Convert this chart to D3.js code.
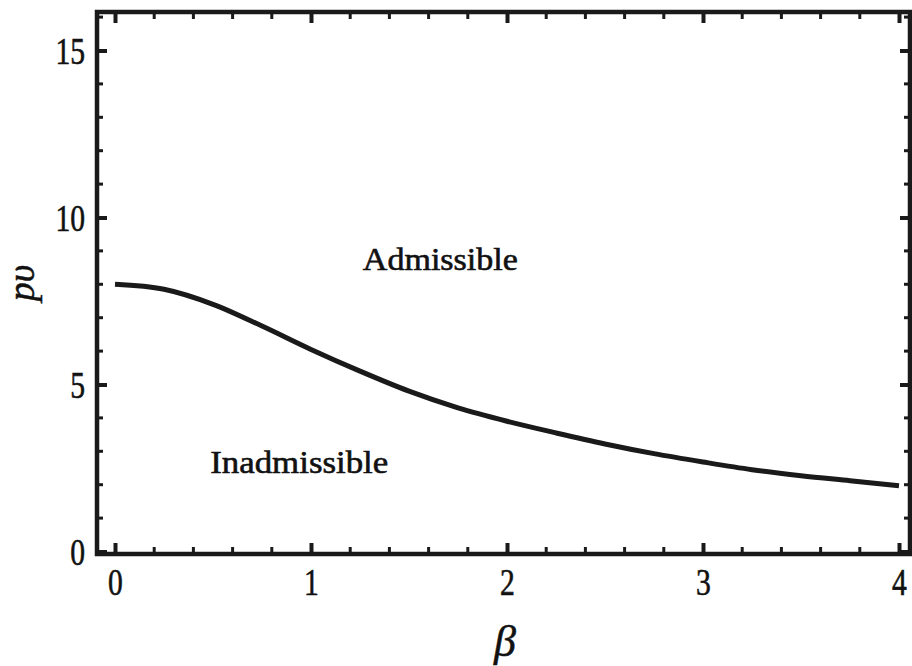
<!DOCTYPE html>
<html>
<head>
<meta charset="utf-8">
<script src="https://cdn.jsdelivr.net/npm/d3@7"></script>
<style>
  body { margin: 0; background: #fff; }
  svg { display: block; }
  .tick text { font-family: "Liberation Serif", "Times New Roman", serif; stroke: #111; stroke-width: 0.6; }
</style>
</head>
<body>
<svg id="chart" width="912" height="666"></svg>
<script>
// 곡선 데이터
const betaValues = [0, 0.25, 0.5, 0.75, 1, 1.25, 1.5, 1.75, 2, 2.25, 2.5, 2.75, 3, 3.25, 3.5, 3.75, 4];
const pValues    = [8.0, 7.85, 7.4, 6.75, 6.05, 5.4, 4.8, 4.3, 3.9, 3.55, 3.22, 2.93, 2.68, 2.45, 2.27, 2.12, 1.97];
const xTickValues = [0, 1, 2, 3, 4];
const yTickValues = [0, 5, 10, 15];
const regionLabels = ["Admissible", "Inadmissible"];

const svg = d3.select("#chart");
const frame = {left: 97, right: 910, top: 12, bottom: 554};

// 축 스케일
const xScale = d3.scaleLinear().domain([0, 4]).range([115, 899]);
const yScale = d3.scaleLinear().domain([0, 15]).range([551.5, 50.5]);

const xMinor = d3.range(0, 4.0001, 0.2).map(d => +d.toFixed(1));
const yMinor = d3.range(0, 16.01, 1);

const axisG = svg.append("g");

// 네 방향 축 (안쪽 눈금)
const bottomAxis = axisG.append("g")
    .attr("transform", `translate(0, ${frame.bottom})`)
    .call(d3.axisBottom(xScale).tickValues(xTickValues).tickSize(-11).tickPadding(24).tickFormat(d3.format("d")));
const topAxis = axisG.append("g")
    .attr("transform", `translate(0, ${frame.top})`)
    .call(d3.axisTop(xScale).tickValues(xTickValues).tickSize(-11).tickFormat(""));
const leftAxis = axisG.append("g")
    .attr("transform", `translate(${frame.left}, 0)`)
    .call(d3.axisLeft(yScale).tickValues(yTickValues).tickSize(-10).tickPadding(20).tickFormat(d3.format("d")));
const rightAxis = axisG.append("g")
    .attr("transform", `translate(${frame.right}, 0)`)
    .call(d3.axisRight(yScale).tickValues(yTickValues).tickSize(-10).tickFormat(""));

[bottomAxis, topAxis, leftAxis, rightAxis].forEach(g => {
    g.select(".domain").remove();
    g.selectAll(".tick line").attr("stroke", "#1a1a1a").attr("stroke-width", 4);
});
bottomAxis.selectAll("text").attr("font-size", 37).attr("fill", "#111").attr("y", 15).attr("dy", "0.71em")
    .attr("transform", "scale(0.8,1)");
leftAxis.selectAll("text").attr("font-size", 37).attr("fill", "#111").attr("dy", "0.36em")
    .attr("x", -12 / 0.8)
    .attr("transform", "scale(0.8,1)");

// 보조 눈금
const minorX = xMinor.filter(d => !xTickValues.includes(d));
const minorY = yMinor.filter(d => !yTickValues.includes(d));
axisG.selectAll("line.minor-bottom")
    .data(minorX)
    .join("line")
    .attr("class", "minor-bottom")
    .attr("x1", xScale).attr("x2", xScale)
    .attr("y1", frame.bottom).attr("y2", frame.bottom - 7)
    .style("stroke", "#1a1a1a").style("stroke-width", 3);
axisG.selectAll("line.minor-top")
    .data(minorX)
    .join("line")
    .attr("class", "minor-top")
    .attr("x1", xScale).attr("x2", xScale)
    .attr("y1", frame.top).attr("y2", frame.top + 7)
    .style("stroke", "#1a1a1a").style("stroke-width", 3);
axisG.selectAll("line.minor-left")
    .data(minorY)
    .join("line")
    .attr("class", "minor-left")
    .attr("y1", yScale).attr("y2", yScale)
    .attr("x1", frame.left).attr("x2", frame.left + 6)
    .style("stroke", "#1a1a1a").style("stroke-width", 3);
axisG.selectAll("line.minor-right")
    .data(minorY)
    .join("line")
    .attr("class", "minor-right")
    .attr("y1", yScale).attr("y2", yScale)
    .attr("x1", frame.right).attr("x2", frame.right - 6)
    .style("stroke", "#1a1a1a").style("stroke-width", 3);

// 프레임
svg.append("rect")
    .attr("x", frame.left)
    .attr("y", frame.top)
    .attr("width", frame.right - frame.left)
    .attr("height", frame.bottom - frame.top)
    .style("fill", "none")
    .style("stroke", "#1a1a1a")
    .style("stroke-width", 4.5);

// 경계 곡선
const points = betaValues.map((b, i) => [b, pValues[i]]);
const line = d3.line()
    .x(d => xScale(d[0]))
    .y(d => yScale(d[1]))
    .curve(d3.curveMonotoneX);
svg.append("path")
    .datum(points)
    .attr("d", line)
    .style("fill", "none")
    .style("stroke", "#1a1a1a")
    .style("stroke-width", 5)
    .style("stroke-linecap", "butt");

// 영역 라벨
const labelFont = "'Liberation Serif', 'Times New Roman', serif";
svg.append("text")
    .attr("x", xScale(1.66)).attr("y", yScale(8.43))
    .attr("text-anchor", "middle")
    .attr("font-family", labelFont).attr("font-size", 32)
    .attr("textLength", 155).attr("lengthAdjust", "spacingAndGlyphs")
    .style("fill", "#111").style("stroke", "#111").style("stroke-width", 0.6)
    .text(regionLabels[0]);
svg.append("text")
    .attr("x", xScale(0.94)).attr("y", yScale(2.35))
    .attr("text-anchor", "middle")
    .attr("font-family", labelFont).attr("font-size", 32)
    .attr("textLength", 178).attr("lengthAdjust", "spacingAndGlyphs")
    .style("fill", "#111").style("stroke", "#111").style("stroke-width", 0.6)
    .text(regionLabels[1]);

// 축 제목
svg.append("text")
    .attr("transform", "translate(34, 283) rotate(-90)")
    .attr("text-anchor", "middle")
    .attr("font-family", labelFont).attr("font-size", 38).attr("font-style", "italic")
    .style("fill", "#111").style("stroke", "#111").style("stroke-width", 0.5)
    .text("pυ");
svg.append("text")
    .attr("x", 505).attr("y", 656)
    .attr("text-anchor", "middle")
    .attr("font-family", labelFont).attr("font-size", 44).attr("font-style", "italic")
    .style("fill", "#111").style("stroke", "#111").style("stroke-width", 0.5)
    .text("β");
</script>
</body>
</html>
